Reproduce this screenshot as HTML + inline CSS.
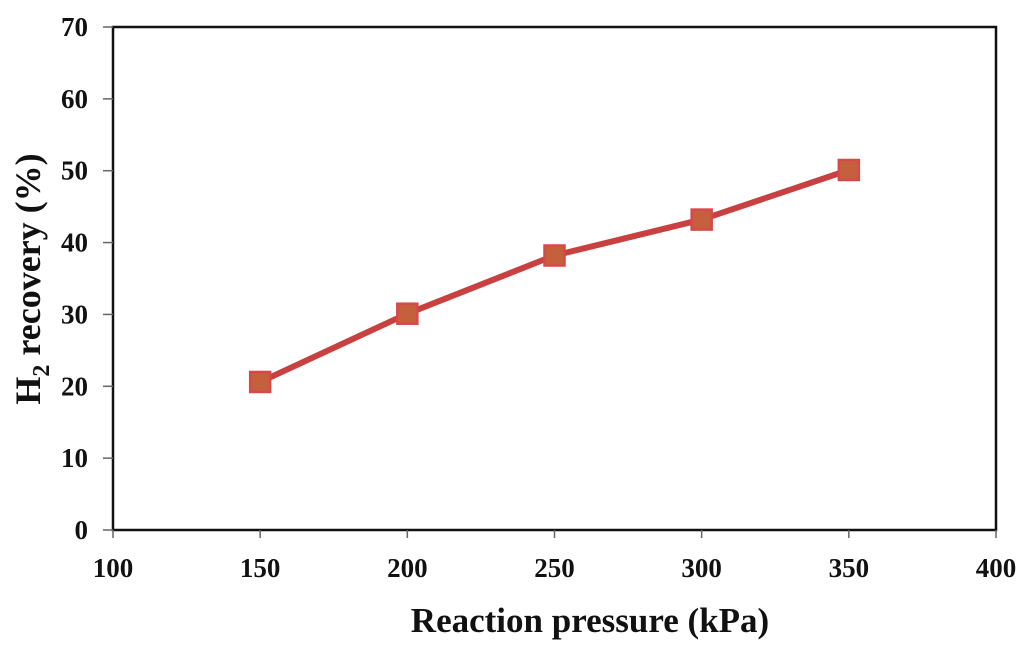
<!DOCTYPE html>
<html><head><meta charset="utf-8"><style>
body{margin:0;background:#fff;width:1024px;height:650px;overflow:hidden}
text{font-family:"Liberation Serif",serif;font-weight:bold;fill:#111}
</style></head><body>
<svg width="1024" height="650">
<g id="axes"></g><g id="series"></g>
<text x="590" y="632" text-anchor="middle" font-size="35">Reaction pressure (kPa)</text>
<text transform="translate(40,279) rotate(-90)" text-anchor="middle" font-size="36">H<tspan font-size="24" dy="9">2</tspan><tspan dy="-9"> recovery (%)</tspan></text>
</svg>
<script>
const xTicks=[100,150,200,250,300,350,400];
const yTicks=[0,10,20,30,40,50,60,70];
const pressures=[150,200,250,300,350];
const recovery=[20.6,30.1,38.2,43.2,50.1];
const L=113,R=996,T=27,B=530;
const sx=v=>L+(v-100)/300*(R-L);
const sy=v=>B-v/70*(B-T);
const NS="http://www.w3.org/2000/svg";
const ax=document.getElementById('axes'),se=document.getElementById('series');
function mk(tag,attrs,parent){const e=document.createElementNS(NS,tag);for(const k in attrs)e.setAttribute(k,attrs[k]);parent.appendChild(e);return e;}
const fr=mk('rect',{x:L,y:T,width:R-L,height:B-T,fill:'none',stroke:'#111','stroke-width':2.5},ax);


yTicks.forEach(v=>{
 const t=mk('line',{x1:L-10,x2:L,y1:sy(v),y2:sy(v),stroke:'#666','stroke-width':1.5},ax);
 
 
 const tx=mk('text',{x:88,y:sy(v)+9,'text-anchor':'end','font-size':27},ax);tx.textContent=v;
 
 
});
xTicks.forEach(v=>{
 const t=mk('line',{x1:sx(v),x2:sx(v),y1:B,y2:B+8,stroke:'#666','stroke-width':1.5},ax);
 
 
 const tx=mk('text',{x:sx(v),y:577,'text-anchor':'middle','font-size':27},ax);tx.textContent=v;
 
 
});
const ln=mk('polyline',{points:pressures.map((p,i)=>sx(p)+','+sy(recovery[i])).join(' '),fill:'none',stroke:'#c84040','stroke-width':6,'stroke-linejoin':'round'},se);


pressures.forEach((p,i)=>{
 const m=mk('rect',{x:sx(p)-10,y:sy(recovery[i])-10,width:20,height:20,fill:'#c4603c',stroke:'#d84848','stroke-width':2.5},se);
 
 
});
</script>
</body></html>
